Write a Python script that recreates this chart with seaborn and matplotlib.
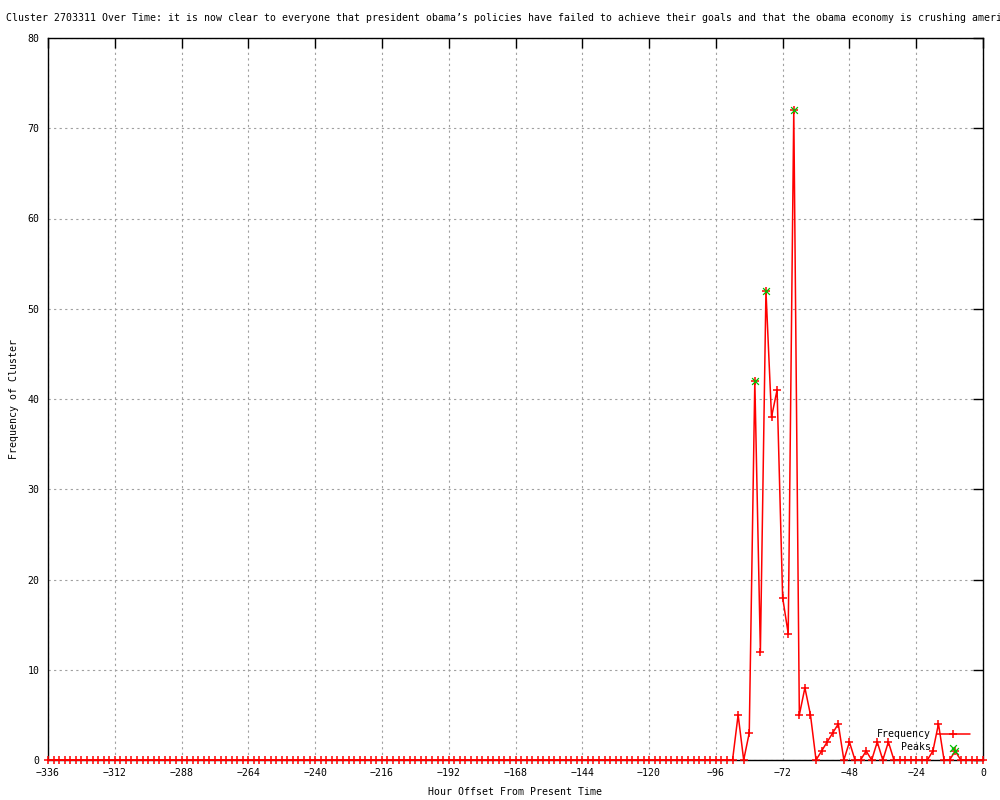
import pandas as pd
import seaborn as sns
import matplotlib.pyplot as plt
import numpy as np

# Hour offsets, one sample every 2 hours
hours = list(range(-336, 1, 2))

# Frequency: flat zero from -336 to -90, then the burst from -88 to 0
freq_early = [0] * 124
freq_late = [5, 0, 3, 42, 12, 52, 38, 41, 18, 14,
             72, 5, 8, 5, 0, 1, 2, 3, 4, 0,
             2, 0, 0, 1, 0, 2, 0, 2, 0, 0,
             0, 0, 0, 0, 0, 1, 4, 0, 0, 1,
             0, 0, 0, 0, 0]
frequency = freq_early + freq_late

# Detected peaks
peak_hours = [-82, -78, -68, -10]
peak_values = [42, 52, 72, 1]

x_ticks = list(range(-336, 1, 24))
y_ticks = list(range(0, 81, 10))

title = ("Cluster 2703311 Over Time: it is now clear to everyone that president "
         "obama\u2019s policies have failed to achieve their goals and that the "
         "obama economy is crushing ameri")

df = pd.DataFrame({'hour': hours, 'freq': frequency})
df_peaks = pd.DataFrame({'hour': peak_hours, 'freq': peak_values})

sns.set_theme(style='white')
plt.rcParams['font.family'] = ['DejaVu Sans Mono']
plt.rcParams['font.size'] = 7.15
for k in ['text.color', 'axes.labelcolor', 'xtick.color', 'ytick.color']:
    plt.rcParams[k] = 'black'

fig = plt.figure(figsize=(10, 8), dpi=100)
ax = fig.add_axes([0.048, 0.05, 0.935, 0.9025])

# Frequency line with + markers
sns.lineplot(data=df, x='hour', y='freq', ax=ax, color='red', linewidth=1.1,
             marker='+', markersize=5.5, markeredgewidth=1.1, markeredgecolor='red',
             label='Frequency', clip_on=False, zorder=3)

# Peaks as green x
sns.scatterplot(data=df_peaks, x='hour', y='freq', ax=ax, color='#00c000',
                marker='x', s=24, linewidth=0.9, label='    Peaks', clip_on=False, zorder=4)

ax.set_xlim(-336, 0)
ax.set_ylim(0, 80)
ax.set_xticks(x_ticks)
ax.set_yticks(y_ticks)
ax.set_xticklabels([str(t).replace('-', '\u2212') for t in x_ticks])
ax.tick_params(direction='in', length=7, width=1, colors='black',
               top=True, right=True, labelsize=7.15, pad=6)
ax.grid(True, color='#a0a0a0', linestyle=(0, (2, 3)), linewidth=0.8)
for s in ax.spines.values():
    s.set_color('black')
    s.set_linewidth(1)

ax.set_xlabel('Hour Offset From Present Time', fontsize=7.15, labelpad=6)
ax.set_ylabel('Frequency of Cluster', fontsize=7.15, labelpad=6.5)

fig.text(0.006, 1 - 18 / 800, title, fontsize=7.15, ha='left', va='center')

leg = ax.legend(loc='lower right', bbox_to_anchor=(0.991, 0.004), frameon=False,
                markerfirst=False, handlelength=3.3, labelspacing=0.3,
                borderpad=0, handletextpad=0.6, fontsize=7.15)

fig.savefig('out.png', dpi=100)
